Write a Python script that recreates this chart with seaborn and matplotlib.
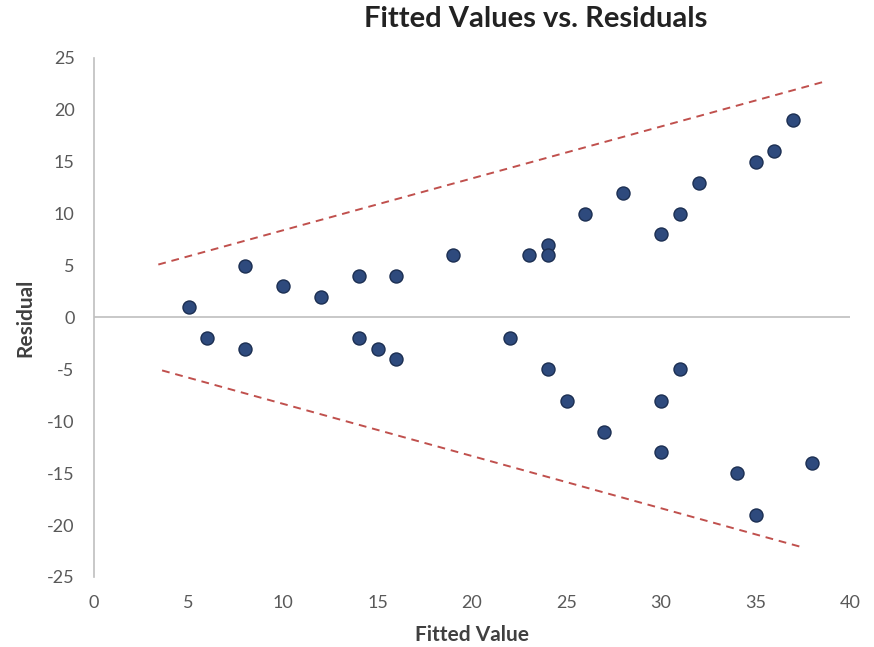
import pandas as pd
import matplotlib.pyplot as plt
import seaborn as sns

# residuals
fitted = [5, 6, 8, 8, 10, 12, 14, 14, 15, 16, 16, 19, 22, 23, 24, 24, 24, 25,
          26, 27, 28, 30, 30, 30, 31, 31, 32, 34, 35, 35, 36, 37, 38]
residual = [1, -2, 5, -3, 3, 2, 4, -2, -3, 4, -4, 6, -2, 6, 7, 6, -5, -8,
            10, -11, 12, 8, -8, -13, 10, -5, 13, -15, 15, -19, 16, 19, -14]

# hand drawn dashed envelope
upper_x = [3.4, 38.6]
upper_y = [5.1, 22.7]
lower_x = [3.6, 37.6]
lower_y = [-5.1, -22.2]

x_ticks = [0, 5, 10, 15, 20, 25, 30, 35, 40]
y_ticks = [-25, -20, -15, -10, -5, 0, 5, 10, 15, 20, 25]

df = pd.DataFrame({'Fitted Value': fitted, 'Residual': residual})

sns.set_theme(style="white")
plt.rcParams['font.family'] = ['Lato', 'DejaVu Sans']
plt.rcParams['axes.unicode_minus'] = False

text_color = '#595959'
axis_color = '#BFBFBF'
dot_color = '#2E4A7D'
line_color = '#C0504D'

fig = plt.figure(figsize=(8.74, 6.47), dpi=100)
ax = fig.add_axes([0.1076, 0.1082, 0.8650, 0.8022])

ax.axhline(0, color=axis_color, lw=1.2, zorder=1)

sns.lineplot(x=upper_x, y=upper_y, ax=ax, color=line_color, lw=1.4,
             linestyle=(0, (4, 3)), zorder=2)
sns.lineplot(x=lower_x, y=lower_y, ax=ax, color=line_color, lw=1.4,
             linestyle=(0, (4, 3)), zorder=2)

sns.scatterplot(data=df, x='Fitted Value', y='Residual', ax=ax, s=88,
                color=dot_color, edgecolor='#1C2F52', linewidth=1.0, zorder=3)

ax.set_xlim(0, 40)
ax.set_ylim(-25, 25)
ax.set_xticks(x_ticks)
ax.set_yticks(y_ticks)
ax.tick_params(axis='both', length=0, labelsize=13, labelcolor=text_color)
ax.tick_params(axis='x', pad=13)
ax.tick_params(axis='y', pad=14)

for side in ['top', 'right', 'bottom']:
    ax.spines[side].set_visible(False)
ax.spines['left'].set_color(axis_color)
ax.spines['left'].set_linewidth(1.2)

ax.set_xlabel('Fitted Value', fontsize=15, fontweight='bold', color='#404040', labelpad=10)
ax.set_ylabel('Residual', fontsize=15, fontweight='bold', color='#404040', labelpad=8)

fig.text(0.613, 0.970, 'Fitted Values vs. Residuals', ha='center', va='center',
         fontsize=21, fontweight='bold', color='#222222')

fig.savefig('out.png', dpi=100)
